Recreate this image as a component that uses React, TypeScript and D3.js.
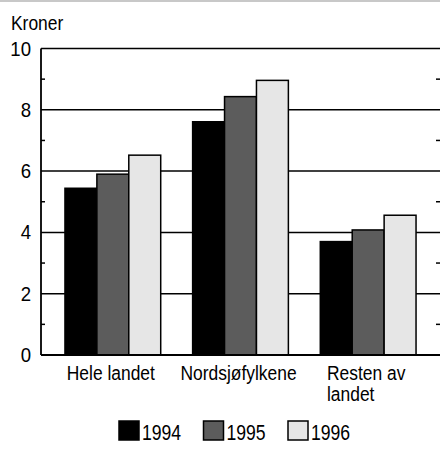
import React, { useEffect, useRef } from "react";
import * as d3 from "d3";

const categories = ["Hele landet", "Nordsjøfylkene", "Resten av landet"];
const categoryLines = [["Hele landet"], ["Nordsjøfylkene"], ["Resten av", "landet"]];
const years = ["1994", "1995", "1996"];
const values1994 = [5.44, 7.61, 3.7];
const values1995 = [5.9, 8.43, 4.08];
const values1996 = [6.52, 8.96, 4.56];
const yTicks = [0, 2, 4, 6, 8, 10];
const yMinorTicks = [1, 3, 5, 7, 9];
const yLabel = "Kroner";

const seriesValues = [values1994, values1995, values1996];
const fills = ["#000000", "#5c5c5c", "#e6e6e6"];

const W = 440;
const H = 456;
const FONT = "'Liberation Sans', Arial, Helvetica, sans-serif";

export default function App() {
  const ref = useRef<SVGSVGElement | null>(null);

  useEffect(() => {
    const svg = d3.select(ref.current);
    svg.selectAll("*").remove();

    const x = d3.scaleBand<string>().domain(categories).range([49, 432]).paddingInner(0.25).paddingOuter(0.125);
    const xs = d3.scaleBand<string>().domain(years).range([0, x.bandwidth()]).padding(0);
    const y = d3.scaleLinear().domain([0, 10]).range([355, 48.5]);
    const left = 41;
    const right = 440;

    const txt = (g: any, s: string, tx: number, ty: number, anchor = "start", size = 21, sx = 0.83) =>
      g
        .append("text")
        .attr("transform", `translate(${tx},${ty}) scale(${sx},1)`)
        .attr("text-anchor", anchor)
        .attr("font-family", FONT)
        .attr("font-size", size)
        .attr("fill", "#000")
        .text(s);

    // scan strip at top
    svg.append("rect").attr("x", 0).attr("y", 0).attr("width", W).attr("height", 2).attr("fill", "#c8c8c8");

    // gridlines
    svg
      .append("g")
      .selectAll("line")
      .data(yTicks.filter((d) => d > 0))
      .join("line")
      .attr("x1", left)
      .attr("x2", right)
      .attr("y1", (d) => y(d))
      .attr("y2", (d) => y(d))
      .attr("stroke", "#000")
      .attr("stroke-width", 1.5);

    // minor ticks
    const mg = svg.append("g");
    mg.selectAll("line.l")
      .data(yMinorTicks)
      .join("line")
      .attr("class", "l")
      .attr("x1", left)
      .attr("x2", left + 4)
      .attr("y1", (d) => y(d))
      .attr("y2", (d) => y(d))
      .attr("stroke", "#000")
      .attr("stroke-width", 1.5);
    mg.selectAll("line.r")
      .data(yMinorTicks)
      .join("line")
      .attr("class", "r")
      .attr("x1", right - 4)
      .attr("x2", right)
      .attr("y1", (d) => y(d))
      .attr("y2", (d) => y(d))
      .attr("stroke", "#000")
      .attr("stroke-width", 1.5);

    // bars
    const bars = svg.append("g");
    categories.forEach((c, ci) => {
      years.forEach((yr, si) => {
        const v = seriesValues[si][ci];
        bars
          .append("rect")
          .attr("x", (x(c) as number) + (xs(yr) as number))
          .attr("y", y(v))
          .attr("width", xs.bandwidth())
          .attr("height", y(0) - y(v))
          .attr("fill", fills[si])
          .attr("stroke", "#000")
          .attr("stroke-width", 1.5);
      });
    });

    // axes lines
    svg.append("line").attr("x1", left).attr("x2", left).attr("y1", y(10)).attr("y2", y(0)).attr("stroke", "#000").attr("stroke-width", 1.8);
    svg.append("line").attr("x1", left).attr("x2", right).attr("y1", y(0)).attr("y2", y(0)).attr("stroke", "#000").attr("stroke-width", 1.8);

    // y tick labels
    const tg = svg.append("g");
    yTicks.forEach((t) => txt(tg, String(t), 31, y(t) + 7, "end", 20, 0.93));

    // y label
    txt(svg, yLabel, 11, 30, "start");

    // category labels
    const SXL = 0.83;
    const cg = svg.append("g");
    categories.forEach((c, ci) => {
      const lines = categoryLines[ci];
      const cx = (x(c) as number) + x.bandwidth() / 2 - 2;
      if (lines.length === 1) {
        txt(cg, lines[0], cx, 380, "middle");
      } else {
        const first = txt(cg, lines[0], 0, 380, "start");
        const w = (first.node() as SVGTextElement).getComputedTextLength() * SXL;
        const sx = cx - w / 2;
        first.attr("transform", `translate(${sx},380) scale(${SXL},1)`);
        lines.slice(1).forEach((l, li) => txt(cg, l, sx, 380 + 21 * (li + 1), "start"));
      }
    });

    // legend
    const lx = d3.scalePoint<string>().domain(years).range([119, 288]);
    const lg = svg.append("g");
    years.forEach((yr, si) => {
      const px = lx(yr) as number;
      lg.append("rect")
        .attr("x", px)
        .attr("y", 421)
        .attr("width", 20)
        .attr("height", 19)
        .attr("fill", fills[si])
        .attr("stroke", "#000")
        .attr("stroke-width", 1.5);
      txt(lg, yr, px + 23, 440, "start", 22, 0.8);
    });
  }, []);

  return (
    <svg
      ref={ref}
      width={W}
      height={H}
      viewBox={`0 0 ${W} ${H}`}
      style={{ position: "absolute", left: 0, top: 0, background: "#fff" }}
    />
  );
}
